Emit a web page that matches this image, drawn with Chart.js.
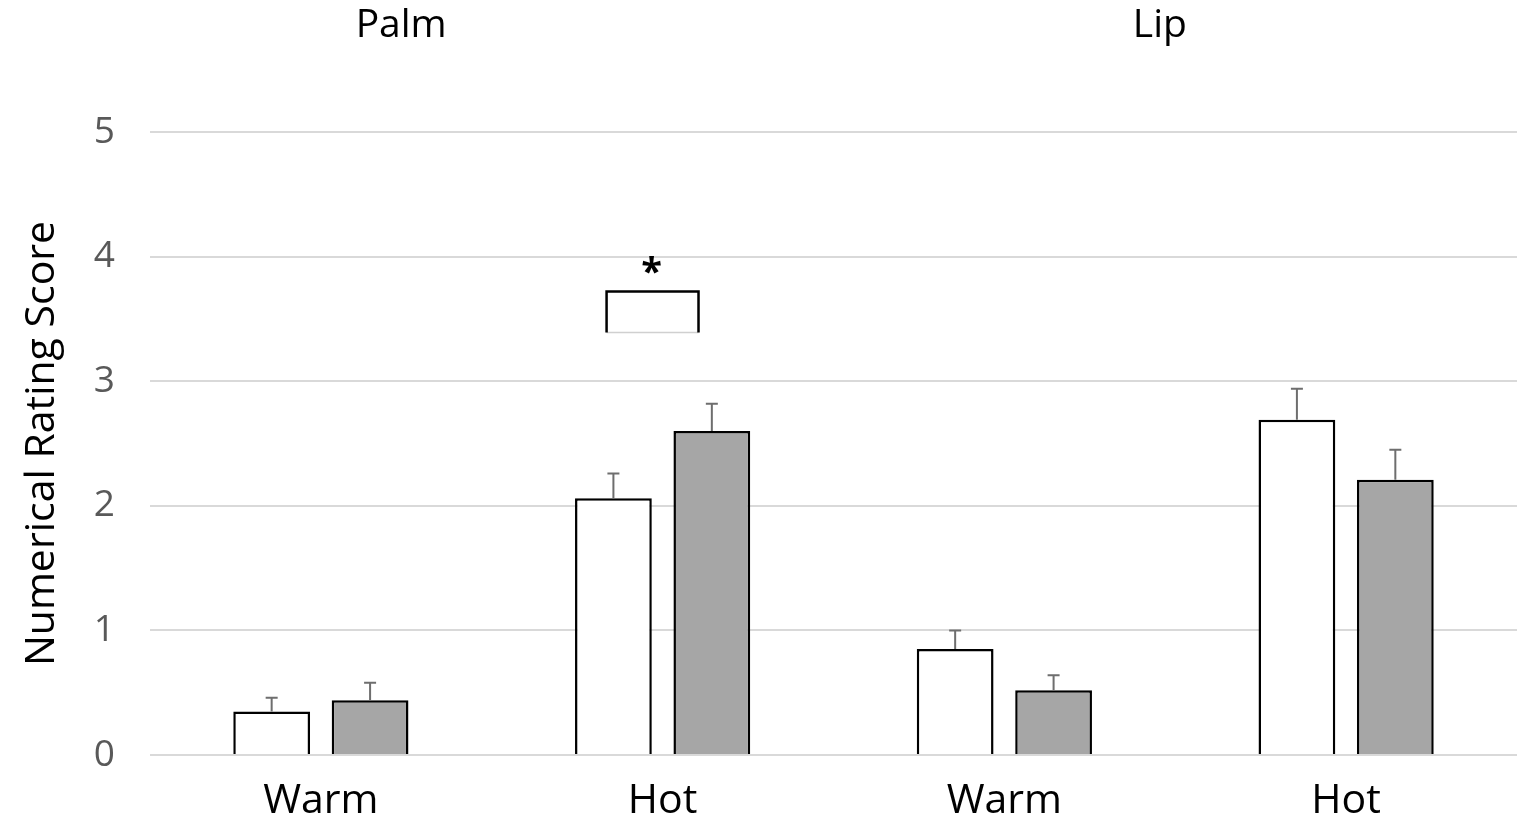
<!DOCTYPE html>
<html>
<head>
<meta charset="utf-8">
<script src="https://cdn.jsdelivr.net/npm/chart.js@4.4.1/dist/chart.umd.min.js"></script>
<style>
  html, body { margin: 0; padding: 0; background: #fff; }
  #wrap { width: 1517px; height: 822px; position: relative; }
</style>
</head>
<body>
<div id="wrap"><canvas id="chart"></canvas></div>
<script>
// ===== data =====
const categories = ["Warm", "Hot", "Warm", "Hot"];
const groupTitles = ["Palm", "Lip"];
const whiteValues = [0.35, 2.06, 0.85, 2.69];
const whiteErrors = [0.11, 0.20, 0.15, 0.25];
const grayValues = [0.44, 2.60, 0.52, 2.21];
const grayErrors = [0.14, 0.22, 0.12, 0.24];
const yTicks = [0, 1, 2, 3, 4, 5];

const FONT = "'Open Sans', 'Noto Sans', sans-serif";

// error bars (upper only) drawn over each bar
const errorBars = {
  id: "errorBars",
  afterDatasetsDraw(chart) {
    const ctx = chart.ctx;
    const errs = [whiteErrors, grayErrors];
    const y = chart.scales.y;
    ctx.save();
    ctx.strokeStyle = "#6e6e6e";
    ctx.lineWidth = 2;
    chart.data.datasets.forEach((ds, di) => {
      chart.getDatasetMeta(di).data.forEach((bar, i) => {
        const top = y.getPixelForValue(ds.data[i] + errs[di][i]);
        ctx.beginPath();
        ctx.moveTo(bar.x, bar.y);
        ctx.lineTo(bar.x, top);
        ctx.moveTo(bar.x - 6, top);
        ctx.lineTo(bar.x + 6, top);
        ctx.stroke();
      });
    });
    ctx.restore();
  }
};

// group titles + significance bracket
const annotations = {
  id: "annotations",
  afterDraw(chart) {
    const ctx = chart.ctx;
    const x = chart.scales.x;
    const y = chart.scales.y;
    ctx.save();
    ctx.fillStyle = "#000";
    ctx.font = "39px " + FONT;
    ctx.textAlign = "center";
    ctx.textBaseline = "alphabetic";
    ctx.fillText(groupTitles[0], x.getPixelForValue(0.235), 37);
    ctx.fillText(groupTitles[1], x.getPixelForValue(2.455), 37);

    // bracket over Palm / Hot
    const x1 = x.getPixelForValue(0.836);
    const x2 = x.getPixelForValue(1.105);
    const yTop = y.getPixelForValue(3.72);
    const yBot = y.getPixelForValue(3.39);
    ctx.strokeStyle = "#d0d0d0";
    ctx.lineWidth = 1.5;
    ctx.beginPath();
    ctx.moveTo(x1, yBot);
    ctx.lineTo(x2, yBot);
    ctx.stroke();
    ctx.strokeStyle = "#000";
    ctx.lineWidth = 2.5;
    ctx.beginPath();
    ctx.moveTo(x1, yBot);
    ctx.lineTo(x1, yTop);
    ctx.lineTo(x2, yTop);
    ctx.lineTo(x2, yBot);
    ctx.stroke();
    ctx.textBaseline = "middle";
    ctx.font = "bold 38px " + FONT;
    ctx.fillText("*", (x1 + x2) / 2 - 1, y.getPixelForValue(3.86));
    ctx.restore();
  }
};

new Chart(document.getElementById("chart"), {
  type: "bar",
  data: {
    labels: categories,
    datasets: [
      {
        data: whiteValues,
        backgroundColor: "#ffffff",
        borderColor: "#000000",
        borderWidth: 2.5,
        barPercentage: 0.78,
        categoryPercentage: 0.576
      },
      {
        data: grayValues,
        backgroundColor: "#a6a6a6",
        borderColor: "#000000",
        borderWidth: 2.5,
        barPercentage: 0.78,
        categoryPercentage: 0.576
      }
    ]
  },
  options: {
    responsive: true,
    maintainAspectRatio: false,
    animation: false,
    layout: { padding: { top: 132, right: 0, left: 0, bottom: 0 } },
    plugins: {
      legend: { display: false },
      tooltip: { enabled: false }
    },
    scales: {
      x: {
        afterFit(scale) { scale.height = 67; },
        grid: { display: false },
        border: { display: false },
        ticks: { color: "#000", font: { family: FONT, size: 41 }, padding: 14 }
      },
      y: {
        min: 0,
        max: 5,
        afterBuildTicks(scale) {
          scale.ticks = yTicks.map(v => ({ value: v }));
        },
        afterFit(scale) { scale.width = 150; },
        grid: { color: "#d9d9d9", lineWidth: 2, drawTicks: false },
        border: { display: false },
        ticks: { color: "#595959", font: { family: FONT, size: 37 }, padding: 35 },
        title: {
          display: true,
          text: "Numerical Rating Score",
          color: "#000",
          font: { family: FONT, size: 41 },
          padding: { top: 18, bottom: 0 }
        }
      }
    }
  },
  plugins: [errorBars, annotations]
});
</script>
</body>
</html>
